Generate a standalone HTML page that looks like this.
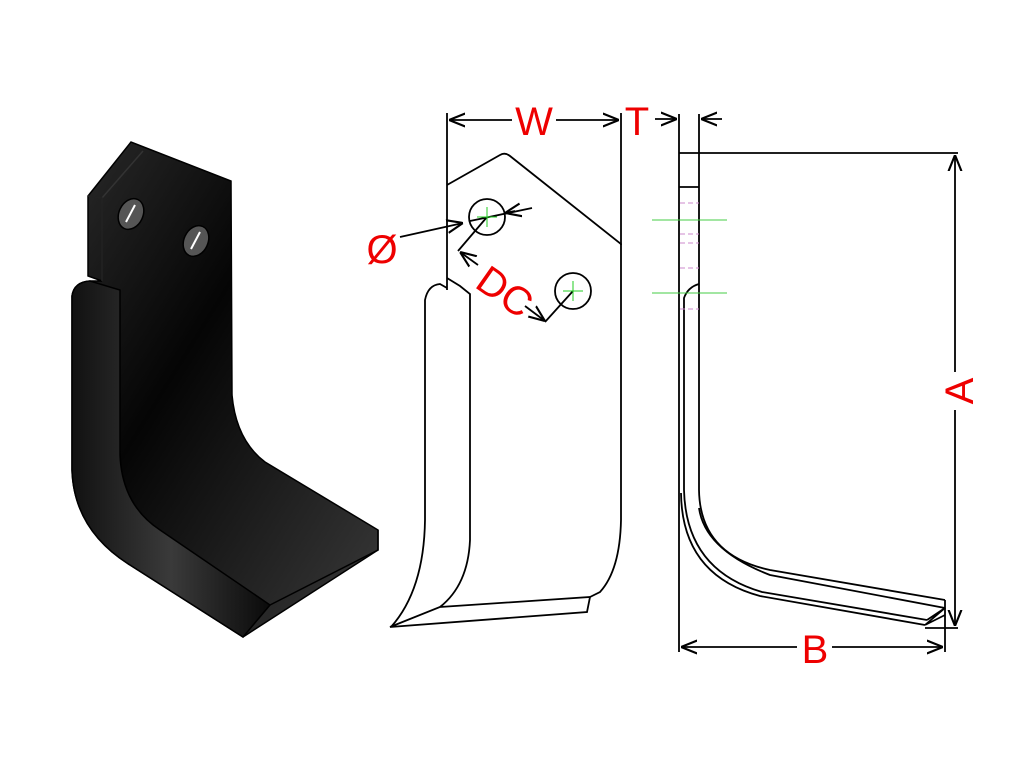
<!DOCTYPE html>
<html><head><style>html,body{margin:0;padding:0;background:#fff}svg{display:block}</style></head>
<body>
<svg width="1024" height="768" viewBox="0 0 1024 768" xmlns="http://www.w3.org/2000/svg" font-family="Liberation Sans, sans-serif">
<defs>
<linearGradient id="g1" x1="0" y1="0" x2="1" y2="1">
<stop offset="0" stop-color="#2a2a2a"/><stop offset="0.4" stop-color="#050505"/><stop offset="1" stop-color="#3a3a3a"/>
</linearGradient>
<linearGradient id="g2" x1="0" y1="0" x2="1" y2="0">
<stop offset="0" stop-color="#111"/><stop offset="0.5" stop-color="#3a3a3a"/><stop offset="1" stop-color="#0a0a0a"/>
</linearGradient>
<marker id="ar" viewBox="0 0 10 10" refX="10" refY="5" markerWidth="9" markerHeight="9" orient="auto-start-reverse"><path d="M0,1 L10,5 L0,9" fill="none" stroke="#000" stroke-width="1.3"/></marker>
</defs>

<g stroke="#000" stroke-width="1.5">
<path d="M88,196 L131,142 L231,181 L232,395 Q236,440 265,462 L378,530 L378,550 L243,637 L130,565 Q74,530 72,470 L72,296 Q74,282 90,281 L102,281 L88,276 Z" fill="url(#g1)"/>
<path d="M72,296 Q74,282 90,281 L120,290 L120,455 Q122,505 160,530 L270,605 L243,637 L130,565 Q74,530 72,470 Z" fill="url(#g2)"/>
<path d="M270,605 L378,550 L378,530" fill="none"/>
<path d="M102,198 L143,151" fill="none" stroke="#333"/>
<path d="M88,196 L102,198 L102,281" fill="none" stroke="#222"/>
<ellipse cx="131" cy="214" rx="12" ry="16" transform="rotate(25 131 214)" fill="#555"/>
<ellipse cx="196" cy="241" rx="12" ry="16" transform="rotate(25 196 241)" fill="#555"/>
</g>
<path d="M126,222 L135,205" stroke="#fff" stroke-width="2"/>
<path d="M191,249 L200,232" stroke="#fff" stroke-width="2"/>

<g fill="none" stroke="#000" stroke-width="1.8">
<line x1="447" y1="113" x2="447" y2="290"/>
<line x1="621" y1="113" x2="621" y2="245"/>
<line x1="449" y1="120" x2="512" y2="120" marker-start="url(#ar)"/>
<line x1="556" y1="120" x2="619" y2="120" marker-end="url(#ar)"/>
<path d="M447,185 L500,155 Q505,152 510,156 L621,244 L621,520 Q620,570 600,592 L590,597"/>
<path d="M447,278 L460,286 L470,294 L470,540 Q468,585 440,607 L390,627 L587,612 L590,597 L440,607"/>
<path d="M447,288 L440,284 Q428,285 425,300 L425,520 Q424,590 391,627"/>
<circle cx="487" cy="217" r="18"/>
<circle cx="573" cy="291" r="18"/>
<line x1="400" y1="237" x2="463" y2="223" marker-end="url(#ar)"/>
<line x1="470" y1="221" x2="532" y2="208"/>
<line x1="515" y1="211" x2="505" y2="213" marker-end="url(#ar)"/>
<path d="M487,217 L458,251"/>
<line x1="478" y1="265" x2="460" y2="252" marker-end="url(#ar)"/>
<path d="M573,291 L545,322"/>
<line x1="525" y1="306" x2="545" y2="321" marker-end="url(#ar)"/>
</g>
<g stroke="#2c2" stroke-width="1"><line x1="487" y1="207" x2="487" y2="227"/><line x1="477" y1="217" x2="497" y2="217"/><line x1="573" y1="281" x2="573" y2="301"/><line x1="563" y1="291" x2="583" y2="291"/></g>

<g fill="none" stroke="#000" stroke-width="1.8">
<line x1="679" y1="114" x2="679" y2="652"/>
<line x1="699" y1="114" x2="699" y2="490"/>
<line x1="655" y1="119" x2="677" y2="119" marker-end="url(#ar)"/>
<line x1="722" y1="119" x2="701" y2="119" marker-end="url(#ar)"/>
<line x1="679" y1="153" x2="958" y2="153"/>
<line x1="679" y1="187" x2="699" y2="187"/>
<path d="M699,284 Q688,287 684,298 L684,490"/>
<path d="M699,490 Q700,555 770,570 L945,600"/>
<path d="M699,508 Q705,550 770,575 L945,608"/>
<path d="M681,493 Q682,575 760,596 L925,625"/>
<path d="M684,490 Q686,570 762,592 L927,620"/>
<path d="M945,600 L945,608 L925,625 M945,615 L925,625 M927,620 L945,608"/>
<line x1="955" y1="155" x2="955" y2="372" marker-start="url(#ar)"/>
<line x1="955" y1="410" x2="955" y2="626" marker-end="url(#ar)"/>
<line x1="925" y1="628" x2="958" y2="628"/>
<line x1="945" y1="608" x2="945" y2="652"/>
<line x1="681" y1="647" x2="797" y2="647" marker-start="url(#ar)"/>
<line x1="832" y1="647" x2="943" y2="647" marker-end="url(#ar)"/>
</g>
<g stroke="#4c4" stroke-width="1"><line x1="652" y1="220" x2="727" y2="220"/><line x1="652" y1="293" x2="727" y2="293"/></g>
<g stroke="#c8c" stroke-width="1" stroke-dasharray="5,3"><line x1="680" y1="203" x2="699" y2="203"/><line x1="680" y1="234" x2="699" y2="234"/><line x1="680" y1="243" x2="699" y2="243"/><line x1="680" y1="268" x2="699" y2="268"/><line x1="680" y1="309" x2="699" y2="309"/></g>

<g fill="#e00" font-size="40">
<text x="534" y="135" text-anchor="middle">W</text>
<text x="637" y="135" text-anchor="middle">T</text>
<text x="382" y="263" text-anchor="middle">Ø</text>
<text x="0" y="0" text-anchor="middle" transform="translate(497,303) rotate(35)">DC</text>
<text x="0" y="0" text-anchor="middle" transform="translate(973,391) rotate(-90)">A</text>
<text x="815" y="663" text-anchor="middle">B</text>
</g>
</svg>
</body></html>
